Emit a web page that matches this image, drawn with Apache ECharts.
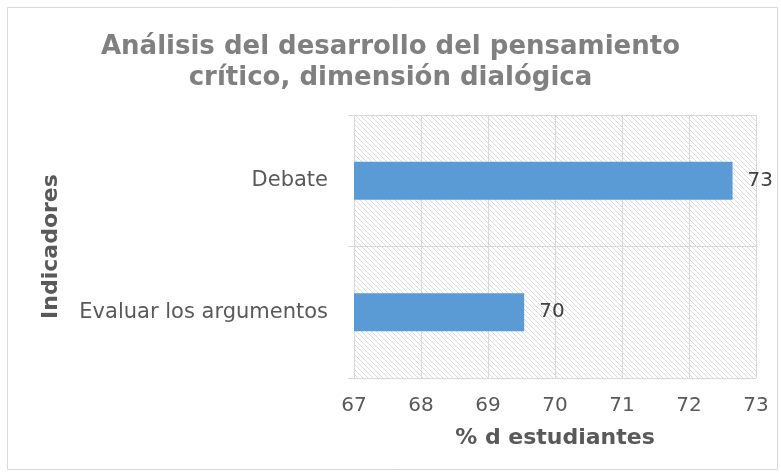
<!DOCTYPE html>
<html>
<head>
<meta charset="utf-8">
<script src="https://cdn.jsdelivr.net/npm/echarts@6/dist/echarts.min.js"></script>
<style>
  html, body { margin: 0; padding: 0; background: #fff; }
  #main { width: 781px; height: 474px; }
</style>
</head>
<body>
<div id="main"></div>
<script>
// datos
var categories = ['Debate', 'Evaluar los argumentos'];
var values = [72.65, 69.54];
var xTicks = [67, 68, 69, 70, 71, 72, 73];

// trama diagonal del fondo del area de trazado
function hatch() {
  var c = document.createElement('canvas');
  c.width = 5; c.height = 5;
  var ctx = c.getContext('2d');
  ctx.fillStyle = '#ffffff';
  ctx.fillRect(0, 0, 5, 5);
  ctx.strokeStyle = '#dcdcdc';
  ctx.lineWidth = 1;
  ctx.beginPath();
  ctx.moveTo(-1, -1); ctx.lineTo(6, 6);
  ctx.moveTo(-1, 4); ctx.lineTo(1, 6);
  ctx.moveTo(4, -1); ctx.lineTo(6, 1);
  ctx.stroke();
  return { image: c, repeat: 'repeat' };
}

var myChart = echarts.init(document.getElementById('main'));
myChart.setOption({
  animation: false,
  backgroundColor: '#fff',
  title: {
    text: 'Análisis del desarrollo del pensamiento\ncrítico, dimensión dialógica',
    left: 'center',
    top: 27,
    textStyle: {
      fontFamily: 'DejaVu Sans',
      fontWeight: 'bold',
      fontSize: 26,
      color: '#808080',
      lineHeight: 31
    }
  },
  graphic: [{
    type: 'rect',
    shape: { x: 7.5, y: 7.5, width: 770, height: 462 },
    style: { fill: null, stroke: '#d9d9d9', lineWidth: 1 },
    silent: true
  }],
  grid: {
    left: 354,
    right: 25,
    top: 115,
    bottom: 96,
    show: true,
    borderWidth: 0,
    backgroundColor: hatch()
  },
  xAxis: {
    type: 'value',
    min: 67,
    max: 73,
    interval: 1,
    name: '% d estudiantes',
    nameLocation: 'middle',
    nameGap: 49,
    nameTextStyle: {
      fontFamily: 'DejaVu Sans',
      fontWeight: 'bold',
      fontSize: 22,
      color: '#595959'
    },
    axisLine: { show: false },
    axisTick: { show: false },
    axisLabel: {
      fontFamily: 'DejaVu Sans',
      fontSize: 20,
      color: '#595959',
      margin: 18,
      formatter: function (v) { return xTicks.indexOf(v) >= 0 ? String(v) : ''; }
    },
    splitLine: { show: true, lineStyle: { color: '#d9d9d9', width: 1 } }
  },
  yAxis: {
    type: 'category',
    inverse: true,
    data: categories,
    name: 'Indicadores',
    nameLocation: 'middle',
    nameRotate: 90,
    nameGap: 292,
    nameTextStyle: {
      fontFamily: 'DejaVu Sans',
      fontWeight: 'bold',
      fontSize: 22,
      color: '#595959'
    },
    axisLine: { show: false },
    axisTick: { show: true, length: 6, lineStyle: { color: '#d9d9d9' } },
    axisLabel: {
      fontFamily: 'DejaVu Sans',
      fontSize: 21,
      color: '#595959',
      margin: 26
    },
    splitLine: { show: true, lineStyle: { color: '#d9d9d9', width: 1 } }
  },
  series: [{
    type: 'bar',
    data: values,
    barWidth: '29%',
    itemStyle: { color: '#5b9bd5' },
    label: {
      show: true,
      position: 'right',
      distance: 15,
      fontFamily: 'DejaVu Sans',
      fontSize: 20,
      color: '#404040',
      formatter: function (p) { return Math.round(p.value); }
    }
  }]
});
</script>
</body>
</html>
